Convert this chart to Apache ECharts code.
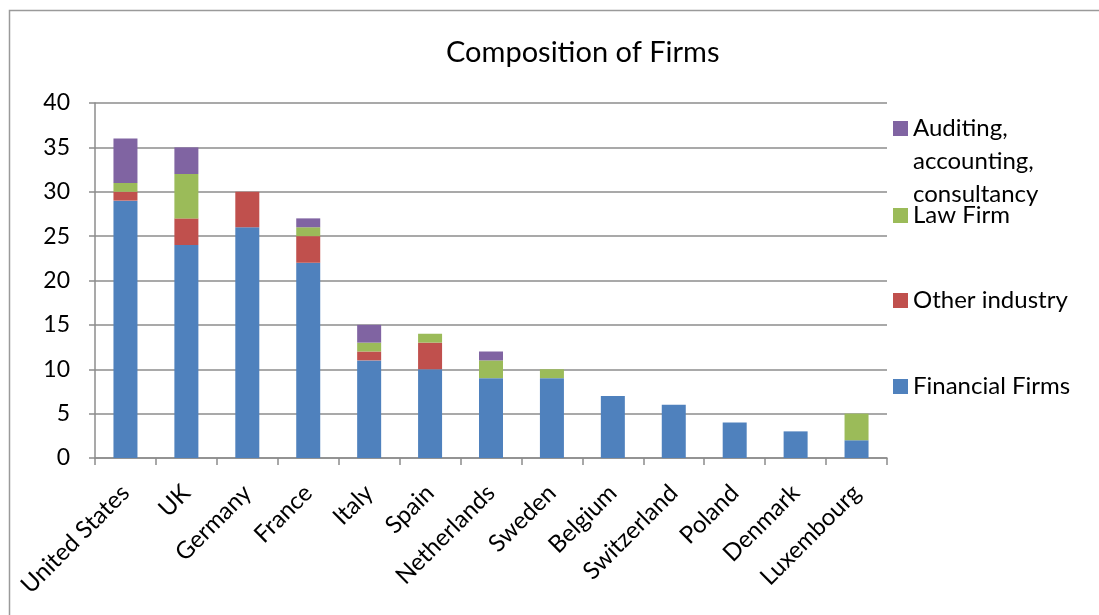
<!DOCTYPE html>
<html>
<head>
<meta charset="utf-8">
<title>Composition of Firms</title>
<script src="https://cdn.jsdelivr.net/npm/echarts@6/dist/echarts.min.js"></script>
<style>
  html, body { margin: 0; padding: 0; background: #fff; overflow: hidden; }
  #chart { width: 1099px; height: 615px; }
</style>
</head>
<body>
<div id="chart"></div>
<script>
// Countries along the x axis
const countries = ['United States', 'UK', 'Germany', 'France', 'Italy', 'Spain',
  'Netherlands', 'Sweden', 'Belgium', 'Switzerland', 'Poland', 'Denmark', 'Luxembourg'];

// Firm counts per country, one array per firm type (stacked bottom to top)
const financialFirms = [29, 24, 26, 22, 11, 10, 9, 9, 7, 6, 4, 3, 2];
const otherIndustry  = [1, 3, 4, 3, 1, 3, 0, 0, 0, 0, 0, 0, 0];
const lawFirm        = [1, 5, 0, 1, 1, 1, 2, 1, 0, 0, 0, 0, 3];
const auditing       = [5, 3, 0, 1, 2, 0, 1, 0, 0, 0, 0, 0, 0];

// Value axis ticks
const yTicks = [0, 5, 10, 15, 20, 25, 30, 35, 40];

const FONT = 'Lato';
const AXIS_GRAY = '#8c8c8c';

const chart = echarts.init(document.getElementById('chart'), null, { renderer: 'canvas' });

function bar(name, data, color) {
  return {
    name: name,
    type: 'bar',
    stack: 'firms',
    data: data,
    barWidth: 24,
    itemStyle: { color: color },
    emphasis: { disabled: true }
  };
}

function legendItem(name, top, formatter) {
  const l = {
    show: true,
    orient: 'vertical',
    left: 893,
    top: top,
    padding: 0,
    itemWidth: 15,
    itemHeight: 15,
    icon: 'rect',
    selectedMode: false,
    data: [name],
    textStyle: { fontFamily: FONT, fontSize: 24, color: '#000', lineHeight: 33 }
  };
  if (formatter) l.formatter = formatter;
  return l;
}

chart.setOption({
  animation: false,
  backgroundColor: '#fff',
  graphic: [{
    // chart frame: left and top edges
    type: 'polyline',
    shape: { points: [[9.5, 700], [9.5, 10.5], [1200, 10.5]] },
    style: { fill: null, stroke: '#9a9a9a', lineWidth: 1.5 },
    silent: true,
    z: -10
  }],
  title: {
    text: 'Composition of Firms',
    left: 446,
    top: 38,
    padding: 0,
    textStyle: { fontFamily: FONT, fontSize: 29, fontWeight: 'normal', color: '#000' }
  },
  legend: [
    // two leading blank lines keep the swatch level with the first line of text
    legendItem('Auditing, accounting, consultancy', 46,
      function () { return '\n\nAuditing,\naccounting,\nconsultancy'; }),
    legendItem('Law Firm', 199),
    legendItem('Other industry', 284),
    legendItem('Financial Firms', 370)
  ],
  grid: { left: 95, right: 212, top: 103, bottom: 157, containLabel: false },
  xAxis: {
    type: 'category',
    data: countries,
    axisLine: { lineStyle: { color: AXIS_GRAY, width: 1.5 } },
    axisTick: { show: true, alignWithLabel: false, length: 7, lineStyle: { color: AXIS_GRAY, width: 1.5 } },
    axisLabel: {
      interval: 0,
      rotate: 45,
      margin: 31,
      fontFamily: FONT,
      fontSize: 24,
      color: '#000'
    }
  },
  yAxis: {
    type: 'value',
    min: yTicks[0],
    max: yTicks[yTicks.length - 1],
    interval: yTicks[1] - yTicks[0],
    axisLine: { show: true, lineStyle: { color: AXIS_GRAY, width: 1.5 } },
    axisTick: { show: true, length: 6, lineStyle: { color: AXIS_GRAY, width: 1.5 } },
    axisLabel: {
      margin: 25,
      fontFamily: FONT,
      fontSize: 23,
      color: '#000'
    },
    splitLine: { show: true, lineStyle: { color: AXIS_GRAY, width: 1.5 } }
  },
  series: [
    bar('Financial Firms', financialFirms, '#4f81bd'),
    bar('Other industry', otherIndustry, '#c0504d'),
    bar('Law Firm', lawFirm, '#9bbb59'),
    bar('Auditing, accounting, consultancy', auditing, '#8064a2')
  ]
});
</script>
</body>
</html>
